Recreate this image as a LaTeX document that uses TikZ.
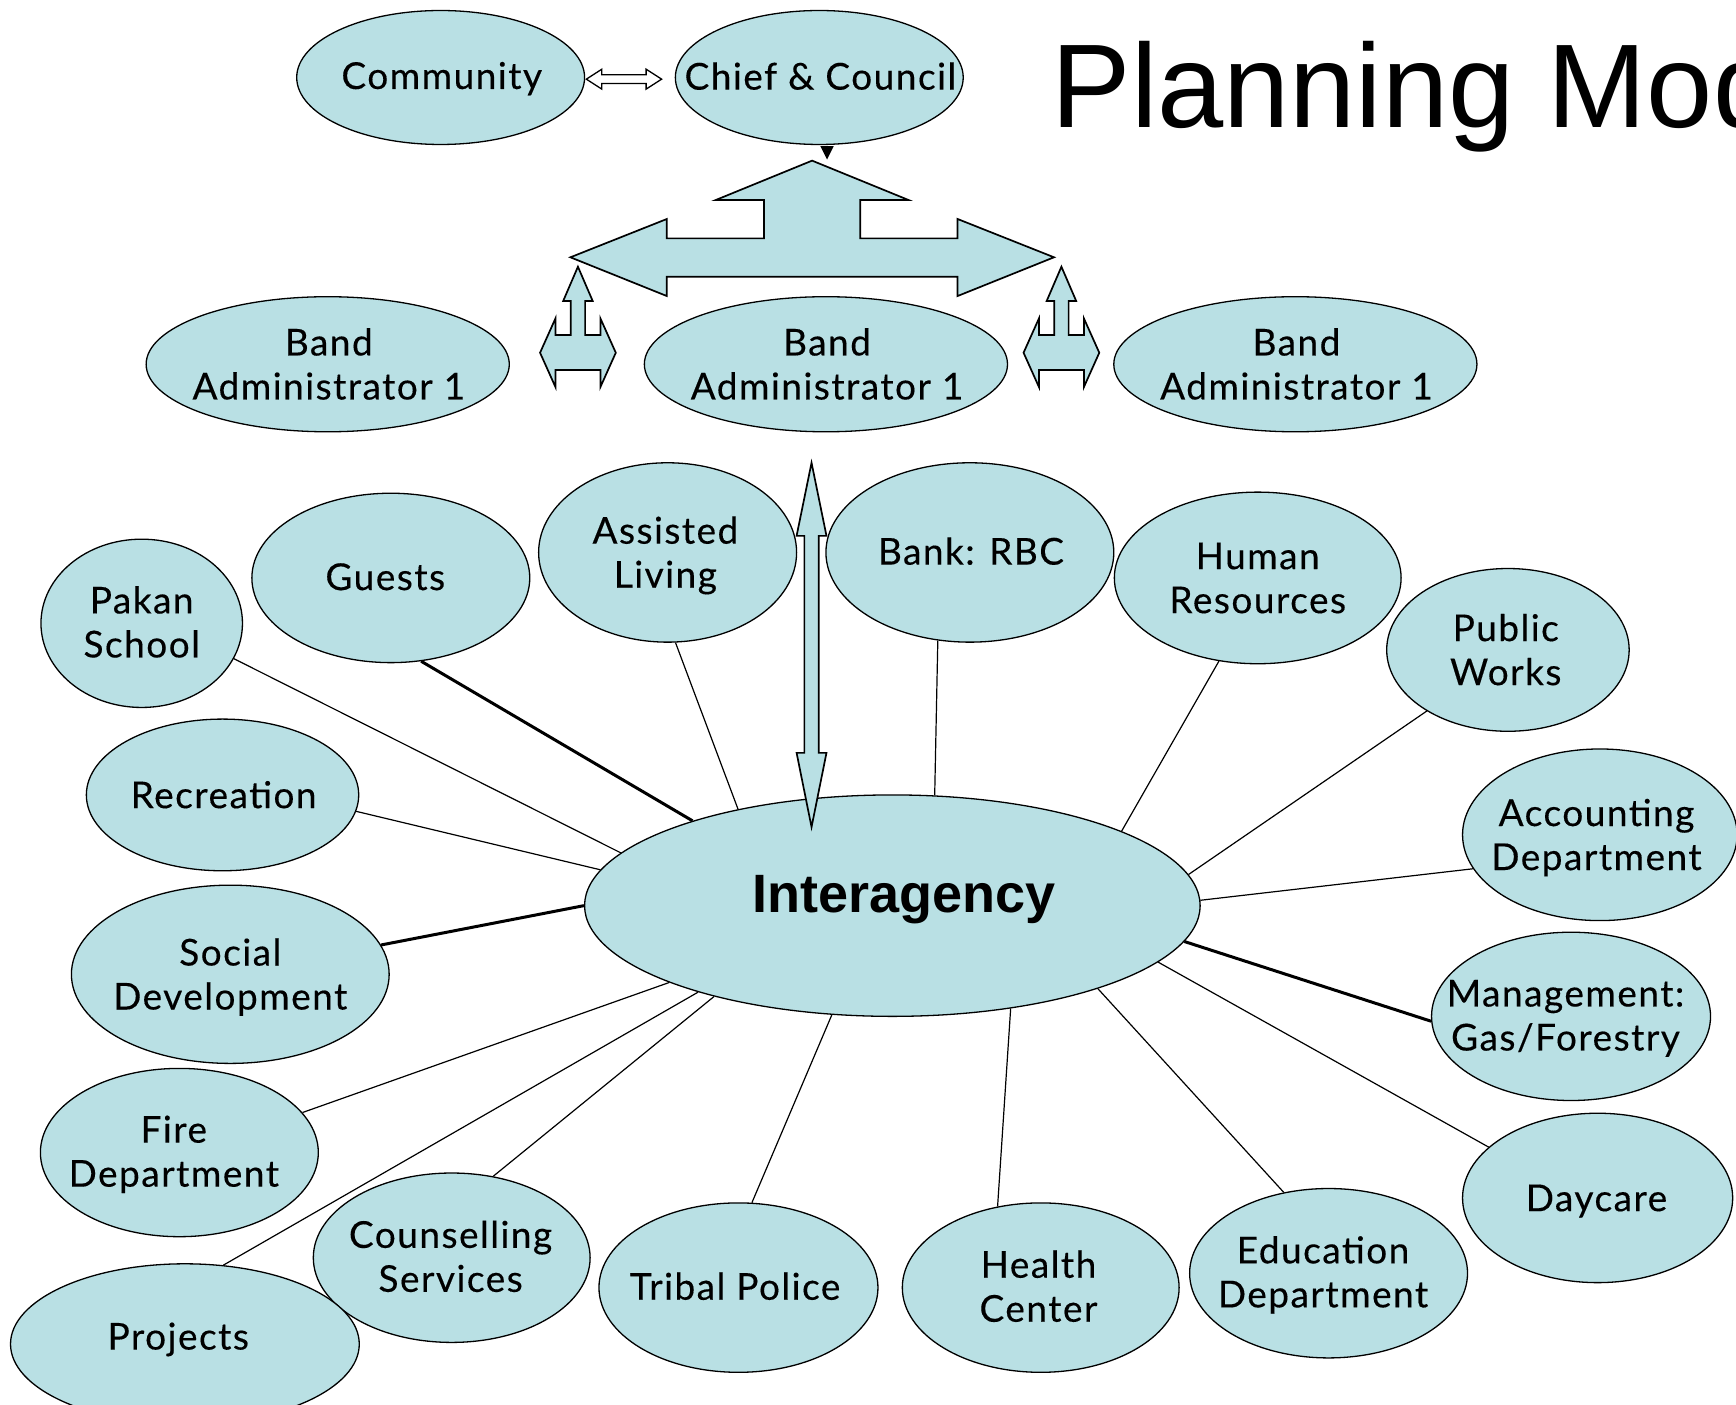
\documentclass[tikz,border=0pt]{standalone}
\usepackage{fontspec}
\setmainfont{Lato}[LetterSpace=4.0,FakeBold=0.3]
\newfontfamily\arialf{Liberation Sans}
\usetikzlibrary{shapes.geometric,backgrounds,calc}
\definecolor{bubble}{RGB}{185,224,228}
\begin{document}
\begin{tikzpicture}[x=0.5535pt,y=-0.5535pt,
  ell/.style={ellipse, draw=black, line width=0.65pt, fill=bubble, inner sep=0pt},
  esz/.style 2 args={minimum width=#1*0.5535pt, minimum height=#2*0.5535pt},
  txt/.style={font=\fontsize{18.5}{22}\selectfont, align=center, inner sep=0pt},
  conn/.style={draw=black, line width=0.6pt},
  connb/.style={draw=black, line width=1.5pt},
  blockarrow/.style={draw=black, line width=0.85pt, fill=bubble, line join=miter}]
\useasboundingbox (0,0) rectangle (1568,1269);
\clip (0,0) rectangle (1568,1269);

% top row
\node[ell, esz={260}{121}] (community) at (398,70) {};
\node[txt] (communityT) at (399,72.4) {Community\strut};
\node[ell, esz={260}{121}] (chief) at (740,70) {};
\node[txt] (chiefT) at (741,73) {Chief \& Council\strut};

% band administrators
\node[ell, esz={328}{122}] (ba1) at (296,329) {};
\node[txt] (ba1T) at (297,333) {Band\strut\\Administrator 1\strut};
\node[ell, esz={328}{122}] (ba2) at (746,329) {};
\node[txt] (ba2T) at (747,333) {Band\strut\\Administrator 1\strut};
\node[ell, esz={328}{122}] (ba3) at (1170,329) {};
\node[txt] (ba3T) at (1171,333) {Band\strut\\Administrator 1\strut};

% hub
\node[ell, esz={556}{200}] (inter) at (806,818) {};
\node[anchor=base, inner sep=0pt, font=\arialf\bfseries\fontsize{27}{32}\selectfont] (interT) at (816.7,824.5) {Interagency};

% satellites
\node[ell, esz={182}{152}] (pakan) at (128,563) {};
\node[txt] (pakanT) at (128,566) {Pakan\strut\\School\strut};
\node[ell, esz={251}{153}] (guests) at (353,522) {};
\node[txt] (guestsT) at (348,525) {Guests\strut};
\node[ell, esz={233}{162}] (assisted) at (603,499) {};
\node[txt] (assistedT) at (601,503) {Assisted\strut\\Living\strut};
\node[ell, esz={260}{162}] (bank) at (876,499) {};
\node[txt] (bankT) at (877,502) {Bank: RBC\strut};
\node[ell, esz={259}{155}] (hr) at (1136,522) {};
\node[txt] (hrT) at (1136,526) {Human\strut\\Resources\strut};
\node[ell, esz={219}{147}] (public) at (1362,587) {};
\node[txt] (publicT) at (1360,591) {Public\strut\\Works\strut};
\node[ell, esz={246}{137}] (recreation) at (201,718) {};
\node[txt] (recreationT) at (202,722) {Recreation\strut};
\node[ell, esz={248}{155}] (accounting) at (1445,754) {};
\node[txt] (accountingT) at (1442,758) {Accounting\strut\\Department\strut};
\node[ell, esz={287}{161}] (social) at (208,880) {};
\node[txt] (socialT) at (208,884) {Social\strut\\Development\strut};
\node[ell, esz={252}{152}] (management) at (1419,918) {};
\node[txt] (managementT) at (1414,921) {Management:\strut\\Gas/Forestry\strut};
\node[ell, esz={251}{152}] (fire) at (162,1041) {};
\node[txt] (fireT) at (157,1044) {Fire\strut\\Department\strut};
\node[ell, esz={244}{153}] (daycare) at (1443,1082) {};
\node[txt] (daycareT) at (1442,1086) {Daycare\strut};
\node[ell, esz={250}{153}] (counselling) at (408,1136) {};
\node[txt] (counsellingT) at (407,1139) {Counselling\strut\\Services\strut};
\node[ell, esz={315}{145}] (projects) at (167,1214) {};
\node[txt] (projectsT) at (161,1211) {Projects\strut};
\node[ell, esz={252}{153}] (tribal) at (667,1163) {};
\node[txt] (tribalT) at (664,1166) {Tribal Police\strut};
\node[ell, esz={250}{153}] (health) at (940,1163) {};
\node[txt] (healthT) at (938,1166) {Health\strut\\Center\strut};
\node[ell, esz={251}{153}] (education) at (1200,1150) {};
\node[txt] (educationT) at (1195,1153) {Education\strut\\Department\strut};

% title
\node[anchor=base west, inner sep=0pt, font=\arialf\fontsize{59.5}{70}\selectfont] (title) at (949.5,115) {Planning Model};

% connectors to the hub
\begin{scope}[on background layer]
\draw[conn]  (pakan.-21.3) -- (inter.169.2);
\draw[connb] (guests.-70.2) -- (inter.157.6);
\draw[conn]  (assisted.-85.2) -- (inter.148.8);
\draw[conn]  (bank.-110.9) -- (inter.69.7);
\draw[conn]  (hr.-115.3) -- (inter.18.9);
\draw[conn]  (public.-143.7) -- (inter.6.6);
\draw[conn]  (accounting.-165.2) -- (inter.1.2);
\draw[connb] (management.-178.2) -- (inter.-7.8);
\draw[conn]  (daycare.155.2) -- (inter.-12.8);
\draw[conn]  (education.119.7) -- (inter.-22.8);
\draw[conn]  (health.118.9) -- (inter.-41.2);
\draw[conn]  (tribal.81) -- (inter.-119.5);
\draw[conn]  (counselling.63.4) -- (inter.-153.1);
\draw[conn]  (projects.64.8) -- (inter.-156.6);
\draw[conn]  (fire.18.9) -- (inter.-161.9);
\draw[connb] (social.11.2) -- (inter.180);
\draw[conn]  (recreation.-7) -- (inter.173.1);
\end{scope}

% community <-> chief double arrow (hollow)
\coordinate (dl) at ($(community.east)+(1,1.5)$);
\draw[line width=0.65pt, fill=white, line join=miter] (dl) -- ++(14,-9) -- ++(0,5) -- ++(40,0) -- ++(0,-5) -- ++(14,9) -- ++(-14,9) -- ++(0,-5) -- ++(-40,0) -- ++(0,5) -- cycle;

% small arrowhead below chief
\fill ($(chief.south)+(1,1)$) -- ++(12,0) -- ++(-6,12) -- cycle;

% T-shaped block arrow
\draw[blockarrow] (733.5,145.1) -- (820.7,180.7) -- (777,180.7) -- (777,215.3) -- (864.9,215.3) -- (864.9,197.8) -- (952,232.4) -- (864.9,267.4) -- (864.9,250) -- (602.3,250) -- (602.3,267.4) -- (515.2,232.4) -- (602.3,197.8) -- (602.3,215.3) -- (690,215.3) -- (690,180.7) -- (646.4,180.7) -- cycle;

% small three-way arrows
\foreach \cx in {522,958.7}{
\begin{scope}[shift={(\cx,318.6)}]
\draw[blockarrow] (0,-77.7) -- (13.3,-46.8) -- (6.5,-46.8) -- (6.5,-16) -- (20.3,-16) -- (20.3,-31) -- (34.2,0) -- (20.3,31) -- (20.3,15.6) -- (-20.3,15.6) -- (-20.3,31) -- (-34.2,0) -- (-20.3,-31) -- (-20.3,-16) -- (-6.5,-16) -- (-6.5,-46.8) -- (-13.3,-46.8) -- cycle;
\end{scope}}

% vertical double block arrow
\draw[blockarrow] (733,418) -- (746.5,484) -- (739.5,484) -- (739.5,680) -- (746.5,680) -- (733,747) -- (719.5,680) -- (726.5,680) -- (726.5,484) -- (719.5,484) -- cycle;
\end{tikzpicture}
\end{document}
